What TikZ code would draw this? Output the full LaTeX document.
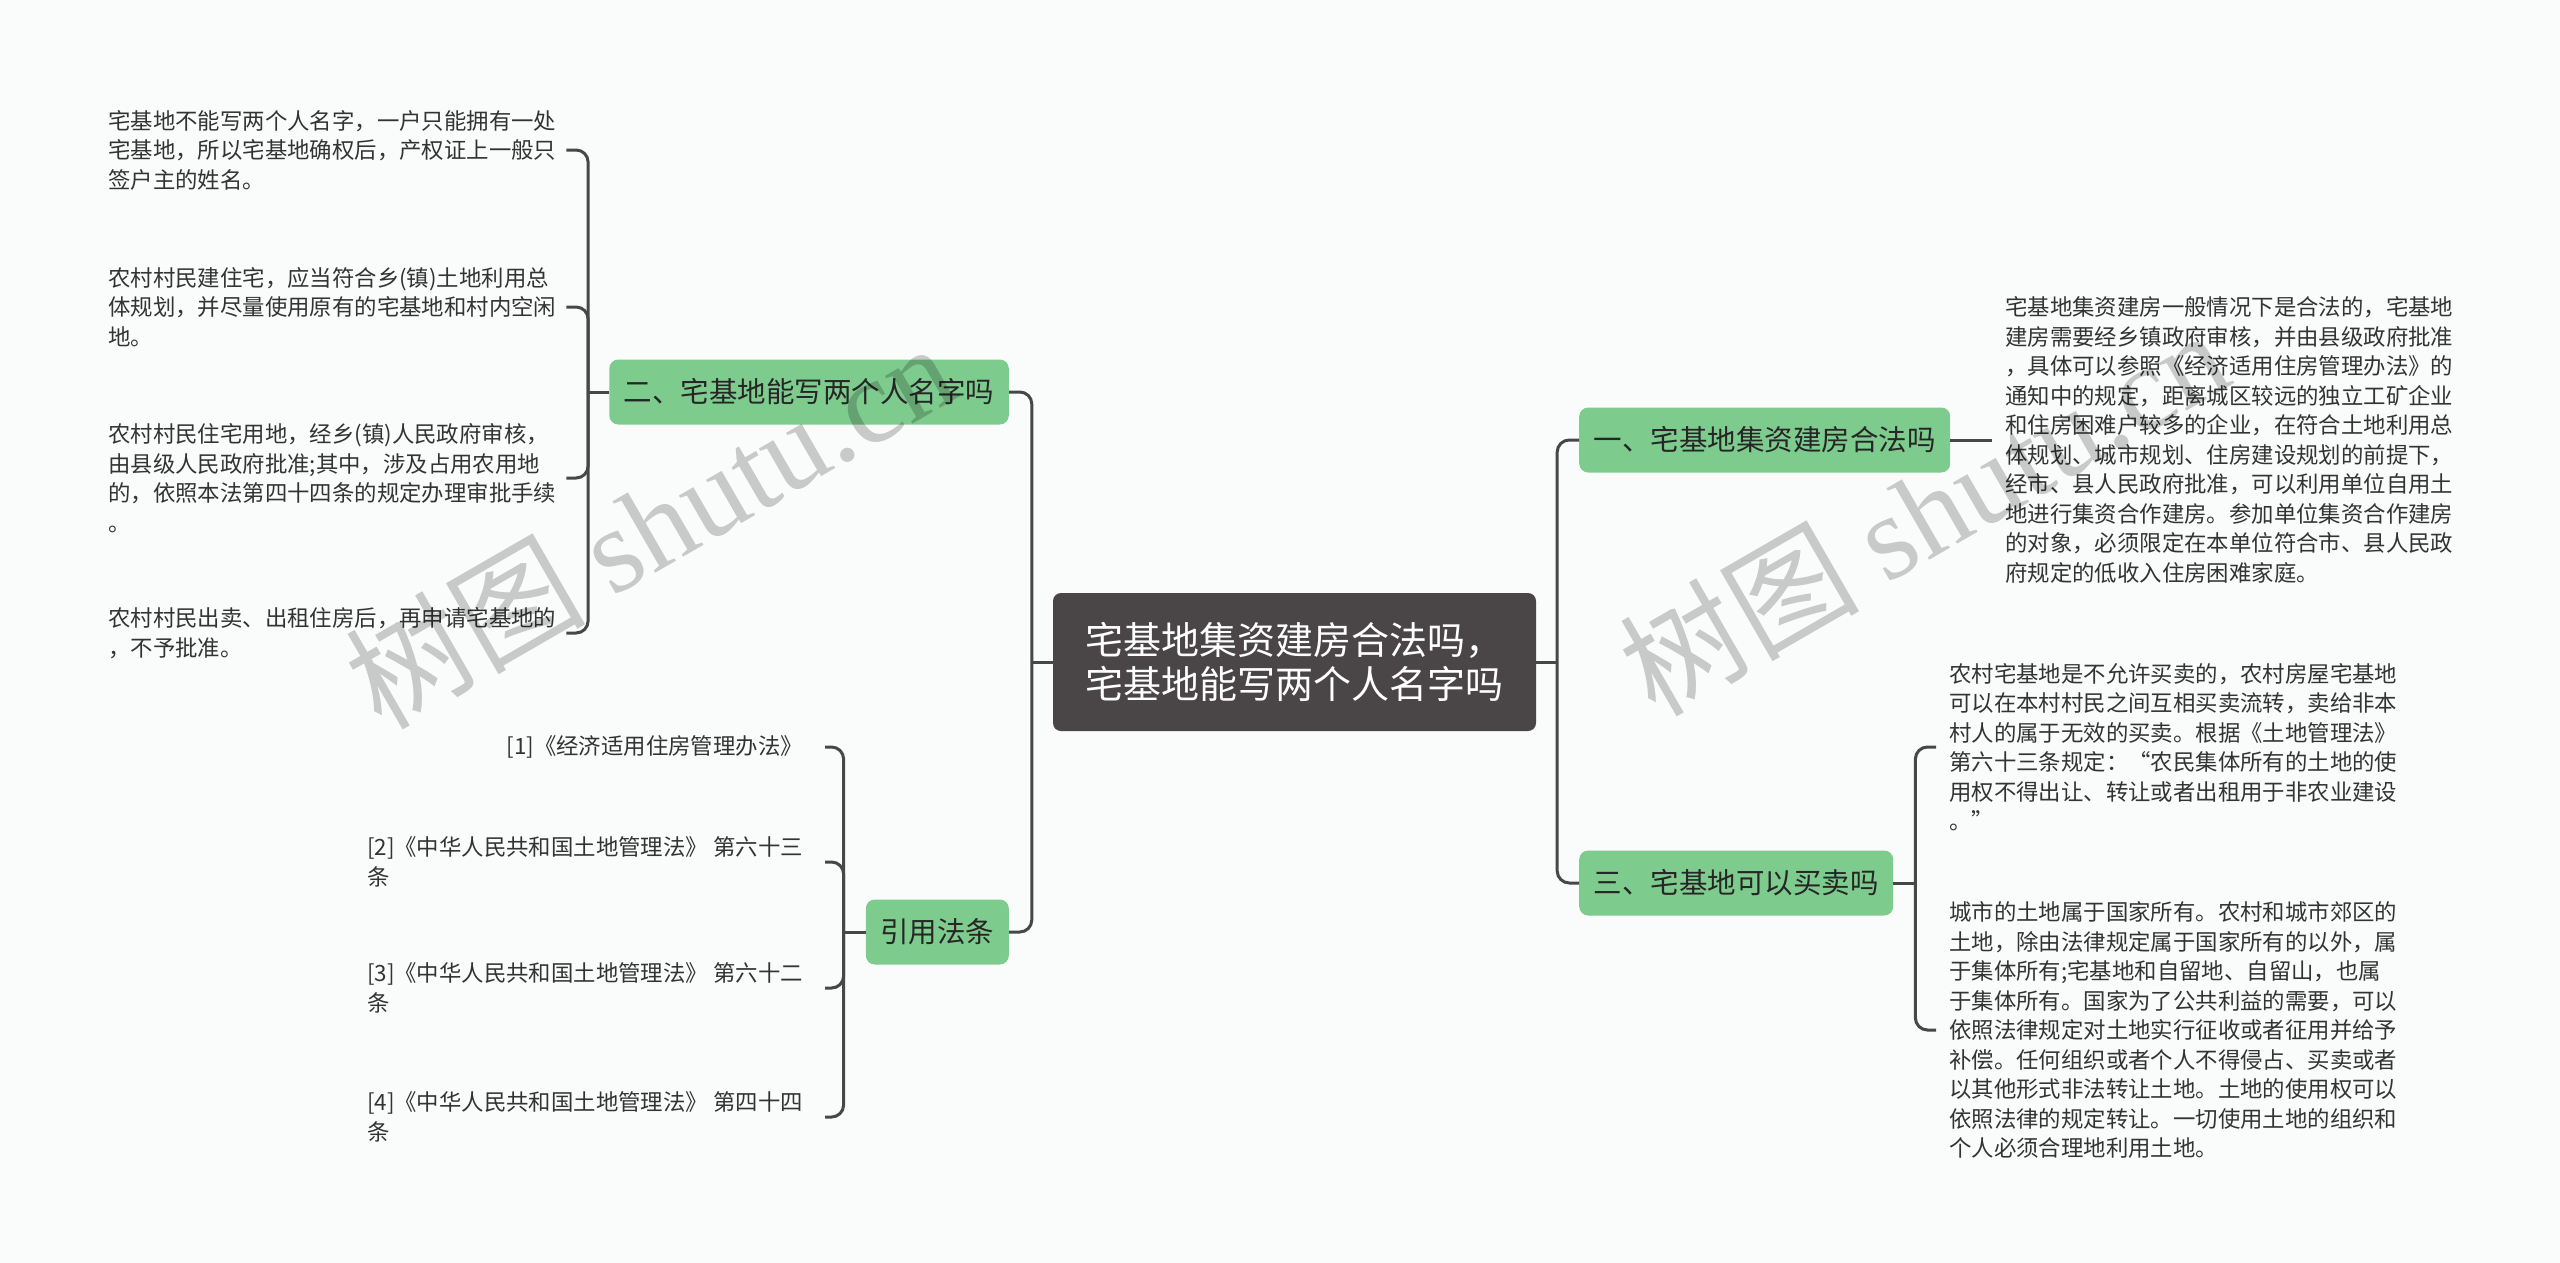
\documentclass[tikz,border=0pt]{standalone}
\usepackage{fontspec}
\setmainfont{Noto Sans CJK SC}
\newfontfamily\wmlatin{Liberation Serif}
\usepackage{tikz}
\usetikzlibrary{positioning}
\definecolor{topicgreen}{HTML}{7ECB8E}
\definecolor{rootgray}{HTML}{4A4546}
\definecolor{linegray}{HTML}{474747}
\definecolor{leaftext}{HTML}{333333}
\definecolor{paper}{HTML}{FAFCFC}

\begin{document}
\begin{tikzpicture}[x=1pt, y=-1pt,
      root/.style={fill=rootgray, rounded corners=8pt, text=white, align=left,
        minimum width=483pt, minimum height=138pt, font=\fontsize{38}{44}\selectfont},
      topic/.style={fill=topicgreen, rounded corners=9pt, text=black!85, inner xsep=14.5pt,
        minimum height=65pt, font=\fontsize{28.5}{34}\selectfont},
      leaf/.style={align=left, inner ysep=0pt, inner xsep=10pt, text=leaftext,
        font=\fontsize{22.4}{29.5}\selectfont},
      cite/.style={leaf, inner xsep=22pt},
      rleaf/.style={leaf, inner xsep=13pt},
      branch/.style={draw=linegray, line width=3pt, rounded corners=12pt},
      wmark/.style={text=black, text opacity=0.2, rotate=30, font=\fontsize{120}{120}\selectfont}]
      \path[use as bounding box, fill=paper] (0,0) rectangle (2560,1263);
      \node[root] (root) at (1294.5,662) {宅基地集资建房合法吗，\\宅基地能写两个人名字吗};
      \node[topic, anchor=east] (t2) at (1009,392) {二、宅基地能写两个人名字吗};
      \node[topic, anchor=east] (t4) at (1009,932) {引用法条};
      \node[topic, anchor=west] (t1) at (1579,440) {一、宅基地集资建房合法吗};
      \node[topic, anchor=west] (t3) at (1579,883) {三、宅基地可以买卖吗};
      \node[leaf, anchor=west] (l1) at (98,150) {宅基地不能写两个人名字，一户只能拥有一处\\宅基地，所以宅基地确权后，产权证上一般只\\签户主的姓名。};
      \node[leaf, anchor=west] (l2) at (98,307) {农村村民建住宅，应当符合乡(镇)土地利用总\\体规划，并尽量使用原有的宅基地和村内空闲\\地。};
      \node[leaf, anchor=west] (l3) at (98,478) {农村村民住宅用地，经乡(镇)人民政府审核，\\由县级人民政府批准;其中，涉及占用农用地\\的，依照本法第四十四条的规定办理审批手续\\。};
      \node[leaf, anchor=west] (l4) at (98,633) {农村村民出卖、出租住房后，再申请宅基地的\\，不予批准。};
      \node[cite, anchor=east] (c1) at (825,747) {[1]《经济适用住房管理办法》};
      \node[cite, anchor=east] (c2) at (825,862) {[2]《中华人民共和国土地管理法》 第六十三\\条};
      \node[cite, anchor=east] (c3) at (825,988) {[3]《中华人民共和国土地管理法》 第六十二\\条};
      \node[cite, anchor=east] (c4) at (825,1117) {[4]《中华人民共和国土地管理法》 第四十四\\条};
      \node[rleaf, anchor=west] (r1) at (1992,440) {宅基地集资建房一般情况下是合法的，宅基地\\建房需要经乡镇政府审核，并由县级政府批准\\，具体可以参照《经济适用住房管理办法》的\\通知中的规定，距离城区较远的独立工矿企业\\和住房困难户较多的企业，在符合土地利用总\\体规划、城市规划、住房建设规划的前提下，\\经市、县人民政府批准，可以利用单位自用土\\地进行集资合作建房。参加单位集资合作建房\\的对象，必须限定在本单位符合市、县人民政\\府规定的低收入住房困难家庭。};
      \node[rleaf, anchor=west] (r31) at (1936,747) {农村宅基地是不允许买卖的，农村房屋宅基地\\可以在本村村民之间互相买卖流转，卖给非本\\村人的属于无效的买卖。根据《土地管理法》\\第六十三条规定：“农民集体所有的土地的使\\用权不得出让、转让或者出租用于非农业建设\\。”};
      \node[rleaf, anchor=west] (r32) at (1936,1030) {城市的土地属于国家所有。农村和城市郊区的\\土地，除由法律规定属于国家所有的以外，属\\于集体所有;宅基地和自留地、自留山，也属\\于集体所有。国家为了公共利益的需要，可以\\依照法律规定对土地实行征收或者征用并给予\\补偿。任何组织或者个人不得侵占、买卖或者\\以其他形式非法转让土地。土地的使用权可以\\依照法律的规定转让。一切使用土地的组织和\\个人必须合理地利用土地。};
      \draw[branch] (root.west) -- ++(-21,0) coordinate (lhub);
      \draw[branch] (lhub) |- (t2.east);
      \draw[branch] (lhub) |- (t4.east);
      \draw[branch] (root.east) -- ++(21,0) coordinate (rhub);
      \draw[branch] (rhub) |- (t1.west);
      \draw[branch] (rhub) |- (t3.west);
      \draw[branch] (t2.west) -- ++(-21,0) coordinate (h2);
      \foreach \n in {l1,l2,l3,l4}
        \draw[branch] (h2) |- (\n.east);
      \draw[branch] (t4.west) -- ++(-22,0) coordinate (h4);
      \foreach \n in {c1,c2,c3,c4}
        \draw[branch] (h4) |- (\n.east);
      \draw[branch] (t1.east) -- (r1.west);
      \draw[branch] (t3.east) -- ++(22,0) coordinate (h3);
      \foreach \n in {r31,r32}
        \draw[branch] (h3) |- (\n.west);
      \node[wmark] (wm1) at (649,524) {树图 {\wmlatin shutu.cn}};
      \node[wmark] (wm2) at (1923,511) {树图 {\wmlatin shutu.cn}};
\end{tikzpicture}
\end{document}
